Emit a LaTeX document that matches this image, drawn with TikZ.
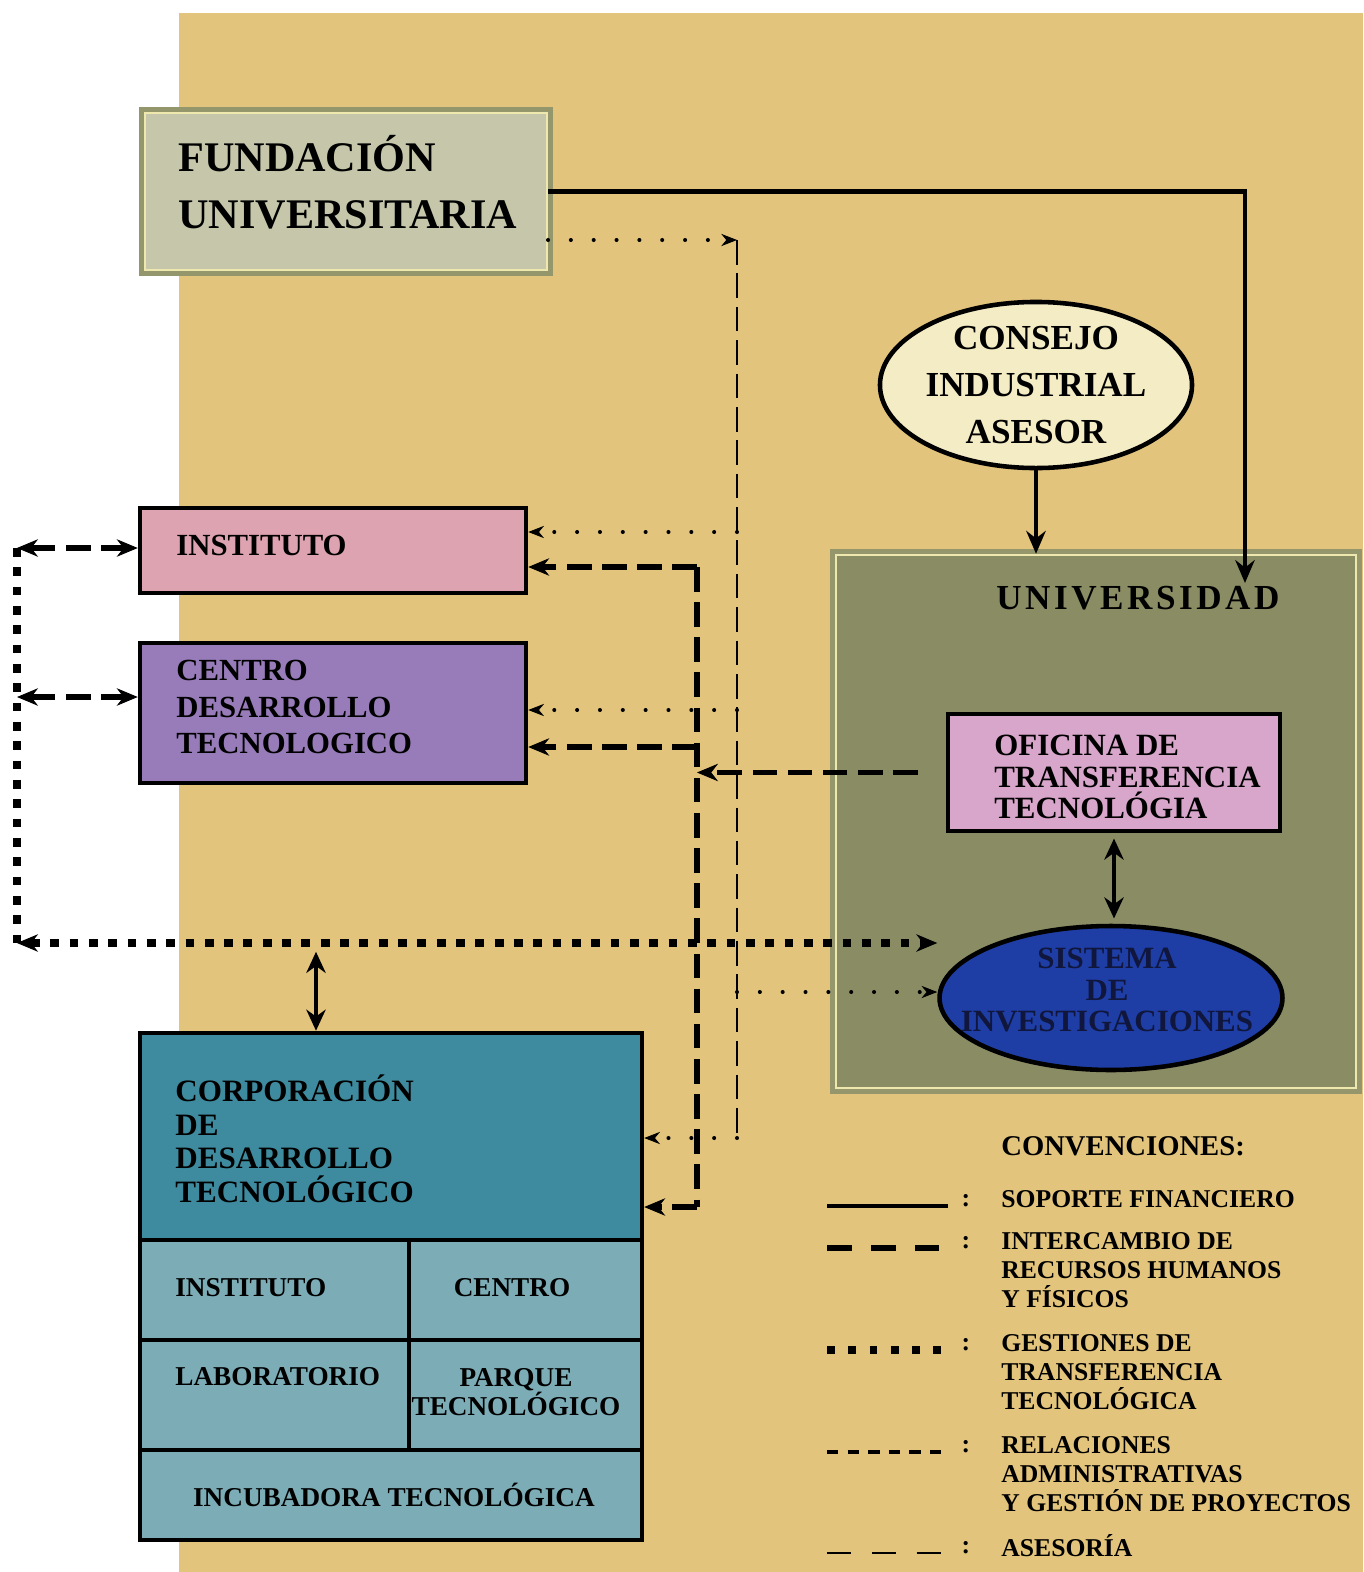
\documentclass[tikz,border=0pt]{standalone}
\usepackage{fontspec}
\setmainfont{Liberation Serif}
\usepackage{tikz}
\usetikzlibrary{arrows.meta,shapes.geometric}

\definecolor{bgTan}{RGB}{226,196,124}
\definecolor{fundFill}{RGB}{198,199,170}
\definecolor{fundEdge}{RGB}{148,150,108}
\definecolor{paleLine}{RGB}{238,232,175}
\definecolor{instPink}{RGB}{221,163,176}
\definecolor{cdtPurple}{RGB}{152,124,186}
\definecolor{consejoFill}{RGB}{244,236,196}
\definecolor{univFill}{RGB}{138,140,100}
\definecolor{univEdge}{RGB}{150,150,108}
\definecolor{ottPink}{RGB}{216,165,203}
\definecolor{sisBlue}{RGB}{30,62,165}
\definecolor{sisText}{RGB}{16,22,60}
\definecolor{corpTeal}{RGB}{62,138,158}
\definecolor{cellTeal}{RGB}{124,172,182}

\newcommand{\bfsz}[2]{\fontsize{#1}{#2}\selectfont\bfseries}

\tikzset{
  frame/.style={draw=black, line width=2.6pt, inner sep=0pt},
  cell/.style={frame, fill=cellTeal},
  fundbox/.style={draw=paleLine, line width=1.2pt, fill=fundFill, inner sep=0pt,
    preaction={draw=fundEdge, line width=7pt}},
  univbox/.style={draw=paleLine, line width=1.4pt, fill=univFill, inner sep=0pt,
    preaction={draw=univEdge, line width=7pt}},
  oval/.style={ellipse, draw=black, line width=2.6pt, inner sep=0pt, align=center},
  lbl/.style={anchor=west, inner sep=0pt, align=left},
  soporte/.style={line width=2.8pt, >={Stealth[length=13pt,width=11pt]}, ->},
  twoway/.style={line width=2.2pt, >={Stealth[length=12pt,width=11pt]}, <->},
  interc/.style={line width=2.9pt, dash pattern=on 14pt off 6pt,
    >={Stealth[length=12pt,width=10pt,line width=0.5pt]}},
  gestion/.style={line width=4.8pt, dash pattern=on 5pt off 6pt,
    >={Stealth[length=12pt,width=10pt,line width=0.5pt]}},
  asdash/.style={line width=1.6pt, dash pattern=on 14pt off 5pt},
  asdot/.style={line width=2.3pt, dash pattern=on 0pt off 13pt, line cap=round,
    >={Stealth[length=9pt,width=7pt,line width=0.5pt]}, ->},
  legfont/.style={font={\bfsz{14.6}{16.7}}}
}

\begin{document}
\begin{tikzpicture}[x=0.02cm,y=-0.02cm]
    \useasboundingbox (0,0) rectangle (1363,1572);
    \fill[white] (0,0) rectangle (1363,1572);
    \fill[bgTan] (179,13) rectangle (1363,1572);

    % fundacion
    \node[fundbox, minimum width=8.04cm, minimum height=3.14cm] (fund) at (346,191.5) {};
    \node[lbl, font={\bfsz{24}{32.3}}] (fundLbl) at (178,182) {FUNDACIÓN\\UNIVERSITARIA};

    % consejo
    \node[oval, fill=consejoFill, minimum width=6.08cm, minimum height=3.32cm,
        font={\bfsz{20}{26.7}}] (consejo) at (1036,385) {CONSEJO\\INDUSTRIAL\\ASESOR};

    % universidad
    \node[univbox, minimum width=10.4cm, minimum height=10.66cm] (univ) at (1096,821.5) {};
    \node[lbl, font={\bfsz{20}{22}\addfontfeature{LetterSpace=10}}] (univLbl) at (996,598) {UNIVERSIDAD};
    \node[frame, fill=ottPink, minimum width=6.64cm, minimum height=2.34cm] (ott) at (1114,772.5) {};
    \node[lbl, font={\bfsz{17.6}{18.1}}] (ottLbl) at (994,777) {OFICINA DE\\TRANSFERENCIA\\TECNOLÓGIA};
    \node[oval, fill=sisBlue, minimum width=6.86cm, minimum height=2.88cm] (sis) at (1111,998) {};
    \node[inner sep=0pt, align=center, text=sisText, font={\bfsz{17.6}{17.9}}] (sisLbl) at (1107,990)
        {SISTEMA\\DE\\INVESTIGACIONES};

    % instituto y centro
    \node[frame, fill=instPink, minimum width=7.72cm, minimum height=1.7cm] (inst) at (333,550.5) {};
    \node[lbl, font={\bfsz{17.5}{21}}] (instLbl) at (176,545) {INSTITUTO};
    \node[frame, fill=cdtPurple, minimum width=7.72cm, minimum height=2.8cm] (cdt) at (333,713) {};
    \node[lbl, font={\bfsz{17.5}{21}}] (cdtLbl) at (176,707) {CENTRO\\DESARROLLO\\TECNOLOGICO};

    % corporacion
    \node[frame, fill=corpTeal, minimum width=10.04cm, minimum height=4.14cm] (corp) at (391,1136.5) {};
    \node[lbl, font={\bfsz{17.7}{19.1}}] (corpLbl) at (175,1139) {CORPORACIÓN\\DE\\DESARROLLO\\TECNOLÓGICO};
    \node[cell, minimum width=5.38cm, minimum height=2cm] (instCell) at (274.5,1290) {};
    \node[cell, minimum width=4.66cm, minimum height=2cm] (centCell) at (525.5,1290) {};
    \node[cell, minimum width=5.38cm, minimum height=2.2cm] (labCell) at (274.5,1395) {};
    \node[cell, minimum width=4.66cm, minimum height=2.2cm] (parqCell) at (525.5,1395) {};
    \node[cell, minimum width=10.04cm, minimum height=1.8cm] (incCell) at (391,1495) {};
    \node[lbl, font={\bfsz{15.5}{16.4}}] (instCellLbl) at (175,1288) {INSTITUTO};
    \node[inner sep=0pt, font={\bfsz{15.5}{16.4}}] (centCellLbl) at (512,1288) {CENTRO};
    \node[lbl, font={\bfsz{15.5}{16.4}}] (labCellLbl) at (175,1377) {LABORATORIO};
    \node[inner sep=0pt, align=center, font={\bfsz{15.5}{16.4}}] (parqCellLbl) at (516,1392) {PARQUE\\TECNOLÓGICO};
    \node[inner sep=0pt, font={\bfsz{15.5}{16.4}}] (incCellLbl) at (394,1495) {INCUBADORA TECNOLÓGICA};

    % soporte financiero
    \coordinate (finEnd) at (1245,583);
    \draw[soporte] (fund.east) -| (finEnd);
    \draw[soporte] (consejo.south) -- (consejo.south |- univ.north);

    % asesoria
    \coordinate (asTop) at (737,240);
    \coordinate (asInst) at (737,532);
    \coordinate (asCdt) at (737,710);
    \coordinate (asSis) at (737,992);
    \coordinate (asBot) at (737,1138);
    \draw[asdash] (asTop) -- (asBot);
    \draw[asdot] (fund.east |- asTop) -- (asTop);
    \draw[asdot] (asInst) -- (asInst -| inst.east);
    \draw[asdot] (asCdt) -- (asCdt -| cdt.east);
    \draw[asdot] (asSis) -- (asSis -| sis.west);
    \draw[asdot] (asBot) -- (asBot -| corp.east);

    % intercambio
    \coordinate (icTop) at (697,567);
    \coordinate (icCdt) at (697,747);
    \coordinate (icBot) at (697,1207);
    \draw[interc] (icTop) -- (icBot);
    \draw[interc,->] (icTop) -- (icTop -| inst.east);
    \draw[interc,->] (icCdt) -- (icCdt -| cdt.east);
    \draw[interc,->] (icBot) -- (icBot -| corp.east);
    \draw[interc,->,shorten <=0.56cm] (ott.west) -- (ott.west -| icTop);

    % gestiones
    \coordinate (gsTop) at (17,548);
    \coordinate (gsCdt) at (17,697);
    \coordinate (gsBot) at (17,943);
    \coordinate (gsCorp) at (316,943);
    \draw[gestion] (gsTop) -- (gsBot);
    \draw[gestion,<->] (gsBot) -- (gsBot -| sis.west);
    \draw[interc,<->] (gsTop) -- (gsTop -| inst.west);
    \draw[interc,<->] (gsCdt) -- (gsCdt -| cdt.west);
    \draw[twoway, shorten <=5pt] (gsCorp) -- (gsCorp |- corp.north);
    \draw[twoway, shorten <=3pt, shorten >=3pt] (ott.south) -- (ott.south |- sis.north);

    % convenciones
    \node[lbl, font={\bfsz{16.3}{18}}] (legTitle) at (1001,1146) {CONVENCIONES:};
    \draw[line width=2.6pt] (827,1206) -- (948,1206);
    \draw[line width=3pt, dash pattern=on 14pt off 11pt] (827,1248) -- (948,1248);
    \draw[line width=4.5pt, dash pattern=on 4.5pt off 7.6pt] (827,1350) -- (948,1350);
    \draw[line width=1.8pt, dash pattern=on 6.5pt off 5.2pt] (827,1452) -- (948,1452);
    \draw[line width=1.3pt, dash pattern=on 13.6pt off 11.9pt] (827,1553) -- (948,1553);
    \foreach \yy/\nm in {1201/A,1243/B,1345/C,1447/D,1548/E}
        \node[legfont, inner sep=0pt] (colon\nm) at (966,\yy) {:};
    \node[lbl, legfont] (legSop) at (1001,1199) {SOPORTE FINANCIERO};
    \node[lbl, legfont] (legInt) at (1001,1270) {INTERCAMBIO DE\\RECURSOS HUMANOS\\Y FÍSICOS};
    \node[lbl, legfont] (legGes) at (1001,1372) {GESTIONES DE\\TRANSFERENCIA\\TECNOLÓGICA};
    \node[lbl, legfont] (legRel) at (1001,1474) {RELACIONES\\ADMINISTRATIVAS\\Y GESTIÓN DE PROYECTOS};
    \node[lbl, legfont] (legAse) at (1001,1546) {ASESORÍA};
\end{tikzpicture}
\end{document}
